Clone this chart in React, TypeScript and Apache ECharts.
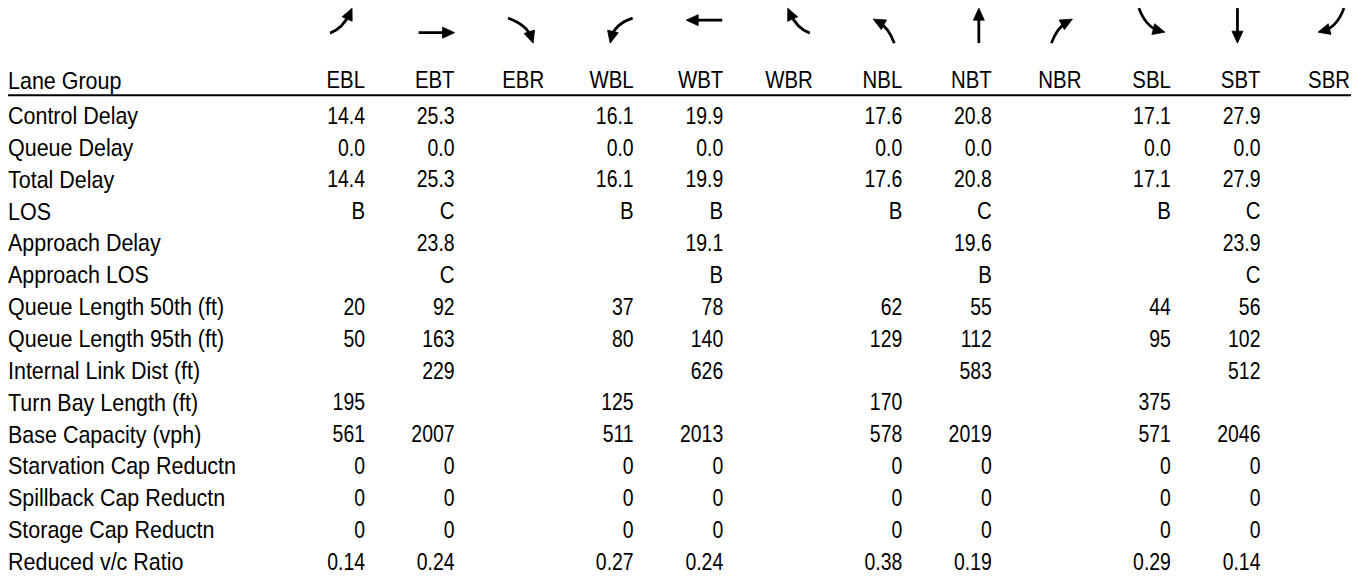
import React, { useEffect, useRef } from "react";
import * as echarts from "echarts";

// ---- data ----
const laneGroups = ["EBL", "EBT", "EBR", "WBL", "WBT", "WBR", "NBL", "NBT", "NBR", "SBL", "SBT", "SBR"];
const headerLabel = "Lane Group";
const rowLabels = [
  "Control Delay",
  "Queue Delay",
  "Total Delay",
  "LOS",
  "Approach Delay",
  "Approach LOS",
  "Queue Length 50th (ft)",
  "Queue Length 95th (ft)",
  "Internal Link Dist (ft)",
  "Turn Bay Length (ft)",
  "Base Capacity (vph)",
  "Starvation Cap Reductn",
  "Spillback Cap Reductn",
  "Storage Cap Reductn",
  "Reduced v/c Ratio",
];
const controlDelay = [14.4, 25.3, null, 16.1, 19.9, null, 17.6, 20.8, null, 17.1, 27.9, null];
const queueDelay = [0.0, 0.0, null, 0.0, 0.0, null, 0.0, 0.0, null, 0.0, 0.0, null];
const totalDelay = [14.4, 25.3, null, 16.1, 19.9, null, 17.6, 20.8, null, 17.1, 27.9, null];
const los = ["B", "C", null, "B", "B", null, "B", "C", null, "B", "C", null];
const approachDelay = [null, 23.8, null, null, 19.1, null, null, 19.6, null, null, 23.9, null];
const approachLOS = [null, "C", null, null, "B", null, null, "B", null, null, "C", null];
const queueLength50 = [20, 92, null, 37, 78, null, 62, 55, null, 44, 56, null];
const queueLength95 = [50, 163, null, 80, 140, null, 129, 112, null, 95, 102, null];
const internalLinkDist = [null, 229, null, null, 626, null, null, 583, null, null, 512, null];
const turnBayLength = [195, null, null, 125, null, null, 170, null, null, 375, null, null];
const baseCapacity = [561, 2007, null, 511, 2013, null, 578, 2019, null, 571, 2046, null];
const starvationCapReductn = [0, 0, null, 0, 0, null, 0, 0, null, 0, 0, null];
const spillbackCapReductn = [0, 0, null, 0, 0, null, 0, 0, null, 0, 0, null];
const storageCapReductn = [0, 0, null, 0, 0, null, 0, 0, null, 0, 0, null];
const reducedVcRatio = [0.14, 0.24, null, 0.27, 0.24, null, 0.38, 0.19, null, 0.29, 0.14, null];

const rowValues: (number | string | null)[][] = [
  controlDelay, queueDelay, totalDelay, los, approachDelay, approachLOS,
  queueLength50, queueLength95, internalLinkDist, turnBayLength, baseCapacity,
  starvationCapReductn, spillbackCapReductn, storageCapReductn, reducedVcRatio,
];
const rowDecimals = [1, 1, 1, 0, 1, 0, 0, 0, 0, 0, 0, 0, 0, 0, 2];

// ---- arrow glyph geometry (start, control, tip) relative to glyph centre ----
const arrowShapes: Record<string, number[]> = {
  EBL: [-16, 7, -3, 2, 6, -18],
  EBT: [-17, 6.5, 1, 6.5, 19, 6.5],
  EBR: [-17, -8, 2, -1, 8, 17],
  WBL: [18, -8, 0, -2, -4.5, 17],
  WBT: [18, -6, 0, -6, -18, -6],
  WBR: [16, 7, 3, 2, -6, -18],
  NBL: [11, 17, 5, 1, -10, -7],
  NBT: [6, 17, 6, 0, 6, -18],
  NBR: [-11, 17, -5, 1, 10, -7],
  SBL: [-13, -18, -6, 1, 13, 6],
  SBT: [-4, -18, -4, 0, -4, 17],
  SBR: [13, -18, 6, 1, -13, 6],
};

const FONT = '"Liberation Sans", Arial, Helvetica, sans-serif';
const FONT_SIZE = 24;

type Cell = { kind: "label" | "cell" | "headLabel" | "head"; text: string };

export default function App() {
  const ref = useRef<HTMLDivElement>(null);
  useEffect(() => {
    document.body.style.margin = "0";
    const chart = echarts.init(ref.current!, null, { renderer: "svg" });

    const cells: Cell[] = [];
    const cellData: number[][] = [];
    cells.push({ kind: "headLabel", text: headerLabel });
    cellData.push([0, 0]);
    laneGroups.forEach((g, c) => {
      cells.push({ kind: "head", text: g });
      cellData.push([c, 0]);
    });
    rowLabels.forEach((lab, r) => {
      cells.push({ kind: "label", text: lab });
      cellData.push([0, r + 1]);
      rowValues[r].forEach((v, c) => {
        if (v === null || v === undefined) return;
        const t = typeof v === "number" ? v.toFixed(rowDecimals[r]) : v;
        cells.push({ kind: "cell", text: t });
        cellData.push([c, r + 1]);
      });
    });

    const yCats = [headerLabel, ...rowLabels];

    const option: any = {
      animation: false,
      grid: { left: 275.5, right: 17, top: 67.7, bottom: 2.5 },
      xAxis: { type: "category", data: laneGroups, show: false },
      yAxis: { type: "category", data: yCats, inverse: true, show: false },
      series: [
        {
          type: "custom",
          name: "cells",
          data: cellData,
          renderItem: (params: any, api: any) => {
            const cell = cells[params.dataIndex];
            const col = api.value(0);
            const row = api.value(1);
            const pt = api.coord([col, row]);
            const bw = api.size([1, 0])[0];
            const isHead = row === 0;
            const y = pt[1] + (isHead ? -3.5 : 0);
            const leftX = params.coordSys.x - 267.5;
            const isLeft = cell.kind === "label" || cell.kind === "headLabel";
            const x = isLeft ? leftX : pt[0] + bw / 2;
            const numeric = /^[0-9.]+$/.test(cell.text);
            const sx = isLeft ? 0.895 : numeric ? 0.81 : 0.85;
            const textEl = {
              type: "text",
              x,
              y,
              scaleX: sx,
              style: {
                text: cell.text,
                fill: "#000",
                fontFamily: FONT,
                fontSize: FONT_SIZE,
                align: isLeft ? "left" : "right",
                verticalAlign: "middle",
              },
            };
            if (cell.kind === "headLabel") {
              return {
                type: "group",
                children: [
                  textEl,
                  {
                    type: "line",
                    shape: {
                      x1: leftX,
                      y1: y + 15,
                      x2: params.coordSys.x + params.coordSys.width + 1,
                      y2: y + 15,
                    },
                    style: { stroke: "#000", lineWidth: 2 },
                  },
                ],
              };
            }
            return textEl;
          },
        },
        {
          type: "custom",
          name: "arrows",
          data: laneGroups.map((_, c) => [c, 0]),
          renderItem: (params: any, api: any) => {
            const col = api.value(0);
            const pt = api.coord([col, 0]);
            const bw = api.size([1, 0])[0];
            const cx = pt[0] + bw / 2 - 19;
            const cy = pt[1] - 3.5 - 54;
            const s = arrowShapes[laneGroups[col]];
            const sx = cx + s[0], sy = cy + s[1];
            const qx = cx + s[2], qy = cy + s[3];
            const tx = cx + s[4], ty = cy + s[5];
            let dx = tx - qx, dy = ty - qy;
            const len = Math.sqrt(dx * dx + dy * dy) || 1;
            dx /= len; dy /= len;
            const hl = 12, hw = 5.5;
            const bx = tx - dx * hl, by = ty - dy * hl;
            const nx = -dy, ny = dx;
            return {
              type: "group",
              children: [
                {
                  type: "bezierCurve",
                  shape: { x1: sx, y1: sy, cpx1: qx, cpy1: qy, x2: tx - dx * 6, y2: ty - dy * 6 },
                  style: { stroke: "#000", lineWidth: 2.8, fill: "none" },
                },
                {
                  type: "polygon",
                  shape: {
                    points: [
                      [tx, ty],
                      [bx + nx * hw, by + ny * hw],
                      [bx - nx * hw, by - ny * hw],
                    ],
                  },
                  style: { fill: "#000", stroke: "#000", lineWidth: 0.8 },
                },
              ],
            };
          },
        },
      ],
    };
    chart.setOption(option);
    return () => chart.dispose();
  }, []);
  return <div ref={ref} style={{ width: 1367, height: 580 }} />;
}
